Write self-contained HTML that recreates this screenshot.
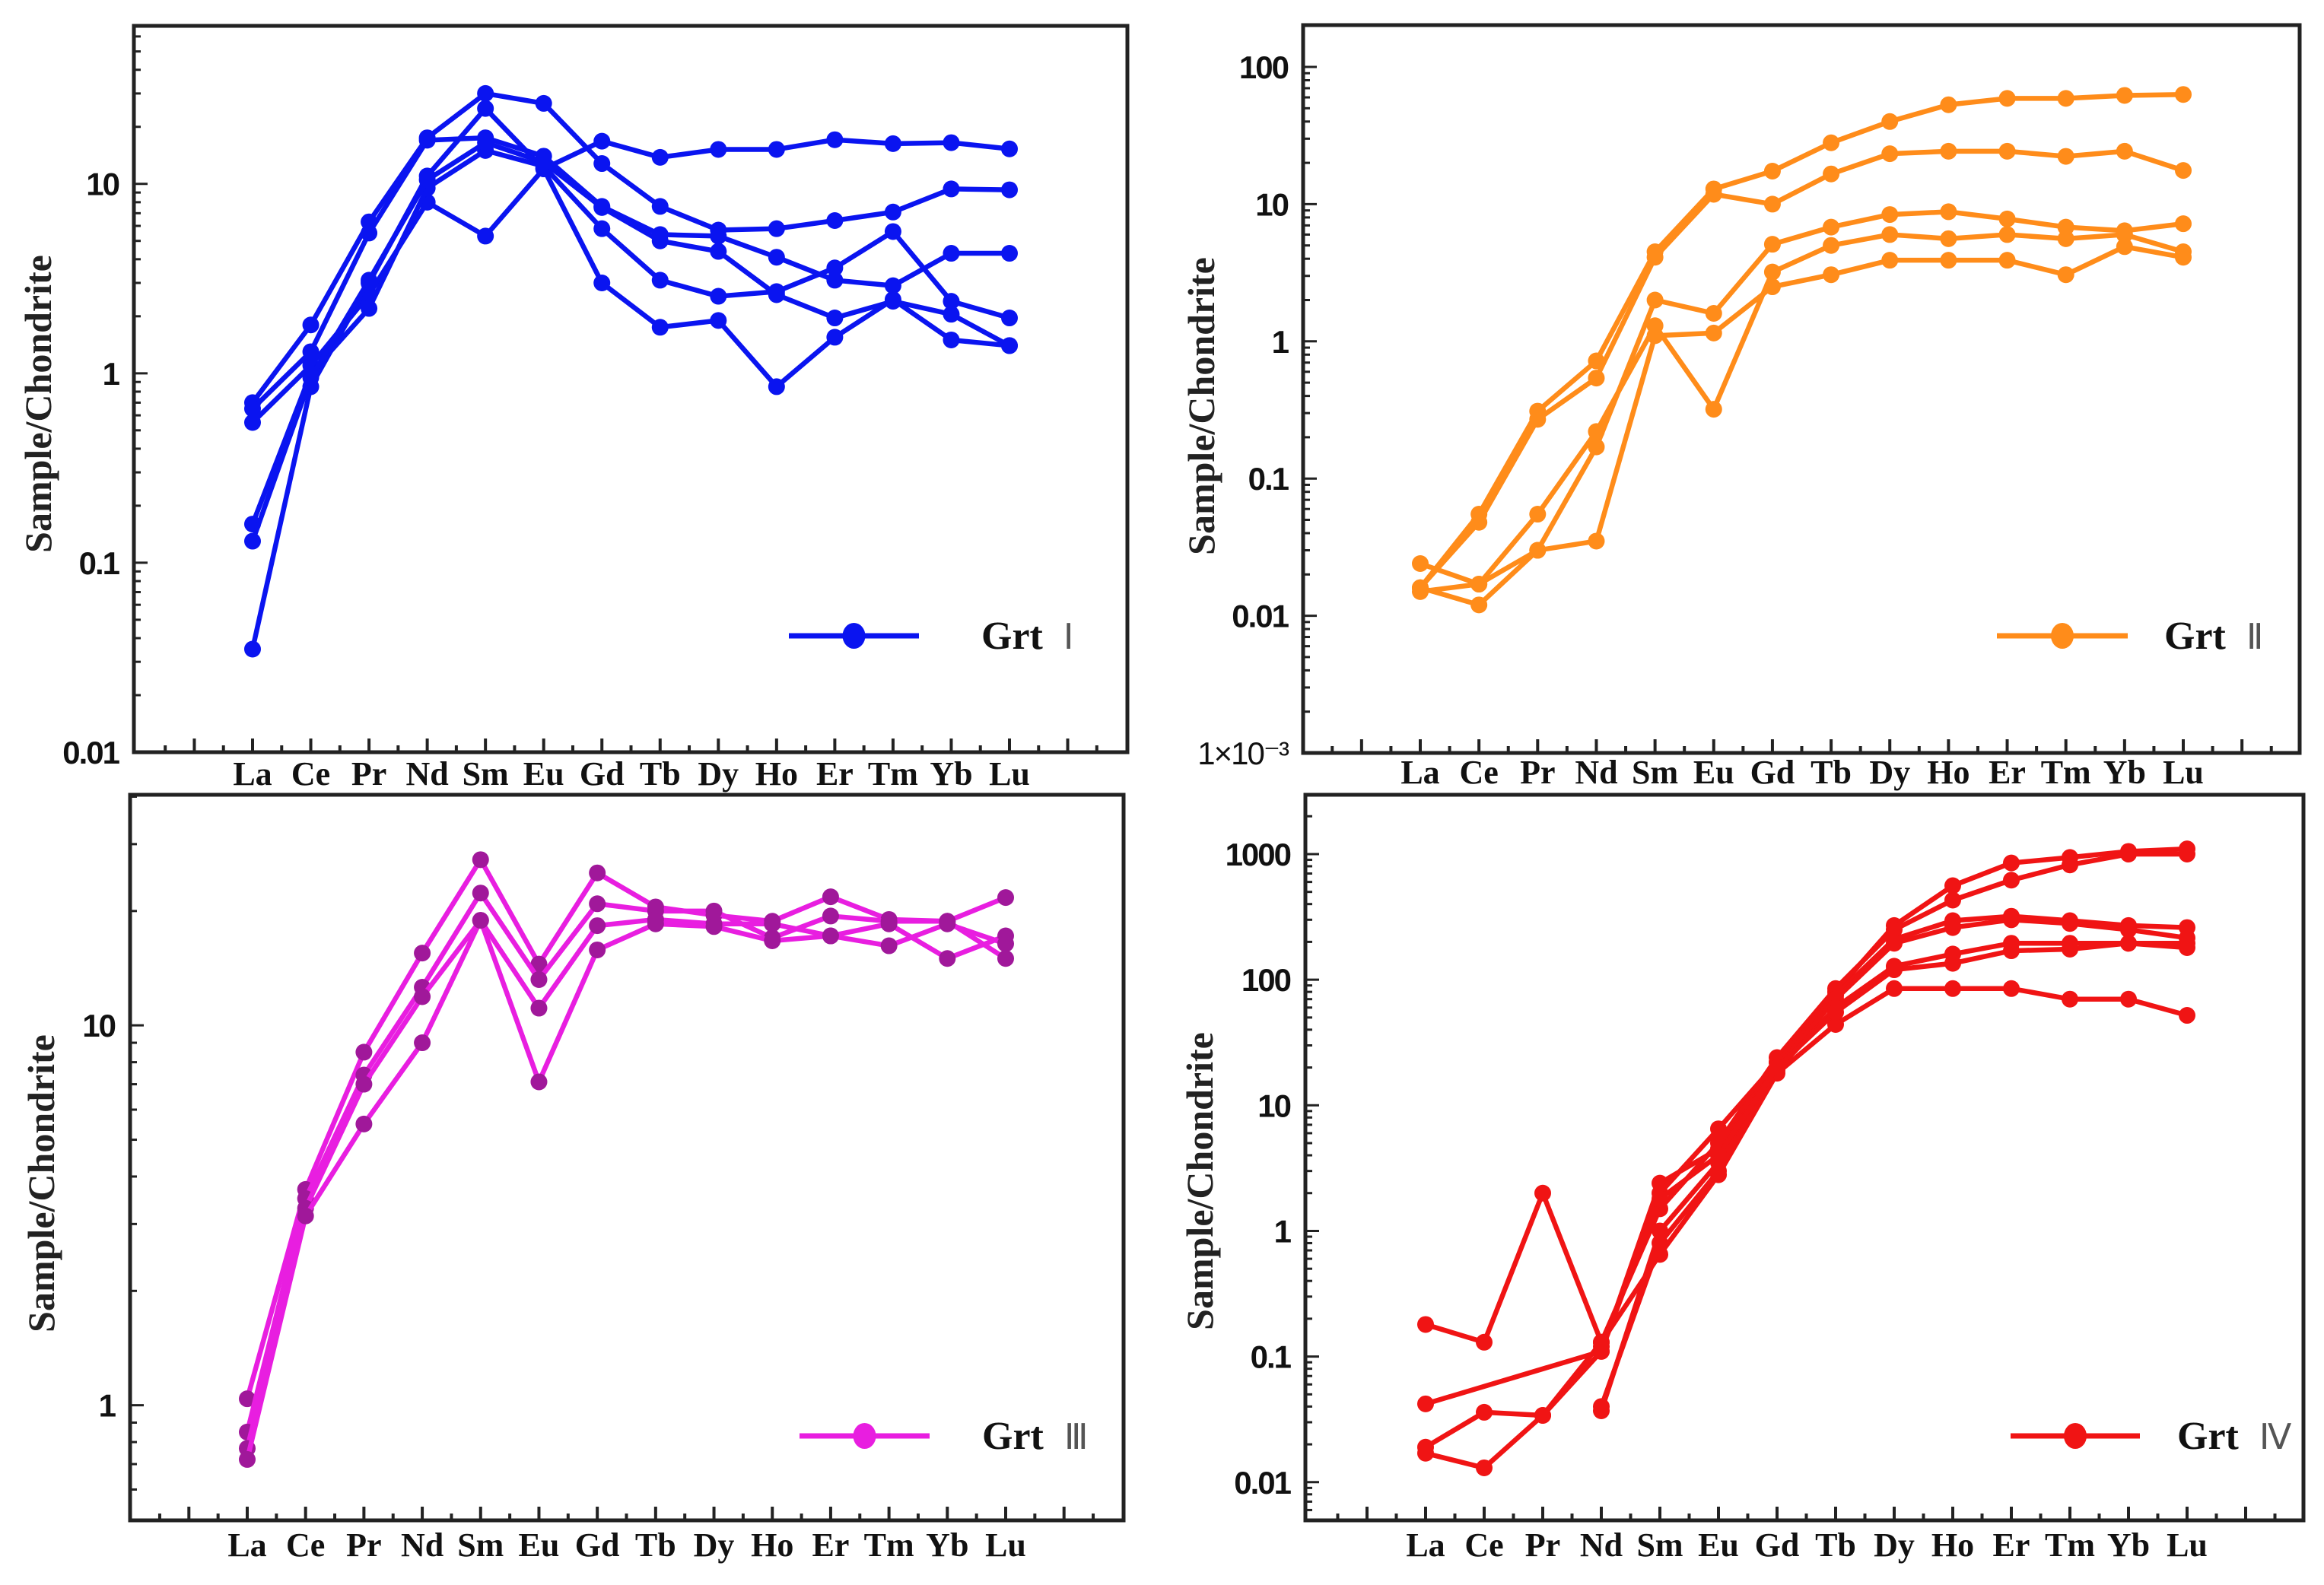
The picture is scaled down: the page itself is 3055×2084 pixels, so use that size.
<!DOCTYPE html>
<html><head><meta charset="utf-8">
<style>
html,body{margin:0;padding:0;background:#fff;}
svg{display:block;}
</style></head>
<body>
<svg id="fig" width="3055" height="2084" viewBox="0 0 3055 2084" xmlns="http://www.w3.org/2000/svg"></svg>
<script>
const categories = ["La","Ce","Pr","Nd","Sm","Eu","Gd","Tb","Dy","Ho","Er","Tm","Yb","Lu"];

const grt1Series = [
  [0.55,1.1,2.6,8.0,5.3,12,16.8,13.8,15.2,15.2,17.1,16.3,16.5,15.3],
  [0.7,1.8,6.3,17.5,30,26.6,12.8,7.6,5.7,5.8,6.4,7.1,9.4,9.3],
  [0.035,0.85,3.0,11,25,12,3.0,1.75,1.9,0.85,1.55,2.45,1.5,1.4],
  [0.65,1.3,5.5,17,17.5,14,7.6,5.4,5.3,4.1,3.1,2.9,4.3,4.3],
  [0.16,1.0,2.2,9.5,15,12.4,5.8,3.1,2.55,2.7,3.6,5.6,2.4,1.96],
  [0.13,0.95,3.1,10.5,16.5,13,7.5,5.0,4.4,2.6,1.96,2.4,2.05,1.4]
];
const grt2Series = [
  [0.016,0.055,0.31,0.72,4.5,12.9,17.4,28,40,53,59,59,62,63],
  [0.016,0.048,0.27,0.54,4.1,11.8,10,16.6,23.3,24.3,24.3,22.3,24.3,17.6],
  [0.024,0.017,0.03,0.17,2.0,1.6,5.1,6.8,8.4,8.8,7.8,6.8,6.4,7.2],
  [0.015,0.017,0.055,0.22,1.3,0.32,3.2,5.0,6.0,5.6,6.0,5.6,6.0,4.5],
  [0.016,0.012,0.03,0.035,1.1,1.15,2.5,3.06,3.9,3.9,3.9,3.06,4.9,4.1]
];
const grt3Series = [
  [1.04,3.7,8.5,15.5,27.3,14.5,25.2,20.5,19.5,18.8,21.8,19.0,18.8,15.0],
  [0.85,3.5,7.4,12.6,22.3,13.2,20.9,20,20,17,19.4,18.8,18.8,21.7],
  [0.77,3.3,7.0,11.9,18.9,11.1,18.3,19,18.5,18.5,17.2,18.5,15.0,17.2],
  [0.72,3.15,5.5,9.0,18.9,7.1,15.8,18.5,18.2,16.7,17.2,16.2,18.5,16.4]
];
const grt4Series = [
  [0.18,0.13,2.0,0.13,0.65,2.8,18,44,85,85,85,70,70,52],
  [0.042,null,null,0.11,2.4,4.5,22,80,270,560,850,940,1050,1100],
  [0.019,0.036,0.034,0.13,1.5,5,24,85,250,430,620,820,1000,1000],
  [0.017,0.013,0.034,0.11,2.0,6.5,22,75,210,295,320,295,270,260],
  [null,null,null,0.037,1.0,3.5,20,70,195,260,300,280,250,215],
  [null,null,null,0.04,0.8,3.0,19,60,128,160,195,195,195,180],
  [null,null,null,0.12,1.8,4,20,55,120,135,170,175,195,195]
];
const tickLabels1 = ["0.01","0.1","1","10"];
const tickLabels2 = ["1×10⁻³","0.01","0.1","1","10","100"];
const tickLabels3 = ["1","10"];
const tickLabels4 = ["0.01","0.1","1","10","100","1000"];

const NS = "http://www.w3.org/2000/svg";
const svg = document.getElementById("fig");
function mk(tag, attrs, parent){
  const e = document.createElementNS(NS, tag);
  for (const k in attrs) e.setAttribute(k, attrs[k]);
  (parent||svg).appendChild(e);
  return e;
}

const panels = [
  {id:"grt1", series:grt1Series, ticks:tickLabels1, firstDecade:-2, L:176,R:1482,T:34,B:989, lmin:-2, lmax:1.834, xLa:332, xLu:1327,
   line:"#0a14f0", mark:"#0a14f0", numeral:"Ⅰ", legY:836, legX1:1037, legX2:1208, legTx:1290, ylabX:50, ylabY:531, labY:1032},
  {id:"grt2", series:grt2Series, ticks:tickLabels2, firstDecade:-3, L:1713,R:3023,T:33,B:990, lmin:-3, lmax:2.305, xLa:1867, xLu:2870,
   line:"#ff8c1a", mark:"#ff8c1a", numeral:"Ⅱ", legY:836, legX1:2625, legX2:2797, legTx:2845, ylabX:1579, ylabY:534, labY:1030},
  {id:"grt3", series:grt3Series, ticks:tickLabels3, firstDecade:0, L:171,R:1477,T:1045,B:1999, lmin:-0.303, lmax:1.607, xLa:325, xLu:1322,
   line:"#e81ee0", mark:"#a0189a", numeral:"Ⅲ", legY:1888, legX1:1051, legX2:1222, legTx:1291, ylabX:54, ylabY:1556, labY:2046},
  {id:"grt4", series:grt4Series, ticks:tickLabels4, firstDecade:-2, L:1716,R:3028,T:1045,B:1999, lmin:-2.304, lmax:3.472, xLa:1874, xLu:2875,
   line:"#f01414", mark:"#f01414", numeral:"Ⅳ", legY:1888, legX1:2643, legX2:2813, legTx:2862, ylabX:1577, ylabY:1553, labY:2046}
];

panels.forEach(p => {
  const g = mk("g", {});
  
  
  const step = (p.xLu - p.xLa) / 13;
  const xs = i => p.xLa + i * step;
  const ys = v => p.B - (Math.log10(v) - p.lmin) / (p.lmax - p.lmin) * (p.B - p.T);

  const fr = mk("rect", {x:p.L, y:p.T, width:p.R-p.L, height:p.B-p.T, fill:"none", stroke:"#222", "stroke-width":5}, g);
  
  

  for (let k = -8; k <= 40; k++) {
    const x = p.xLa + k * step / 2;
    if (x <= p.L + 10 || x >= p.R - 10) continue;
    const len = (k % 2 === 0) ? 18 : 9;
    const t = mk("line", {x1:x, x2:x, y1:p.B, y2:p.B-len, stroke:"#222", "stroke-width":4}, g);
    
    
  }
  categories.forEach((c, i) => {
    const t = mk("text", {x:xs(i), y:p.labY, "text-anchor":"middle", "font-family":"Liberation Serif, serif", "font-weight":"bold", "font-size":44, fill:"#111"}, g);
    t.textContent = c;
    
    
  });

  for (let d = Math.floor(p.lmin); d <= Math.ceil(p.lmax); d++) {
    for (let m = 1; m <= 9; m++) {
      const lv = d + Math.log10(m);
      if (lv < p.lmin - 1e-6 || lv > p.lmax) continue;
      const y = ys(Math.pow(10, lv));
      const t = mk("line", {x1:p.L, x2:p.L + (m === 1 ? 18 : 9), y1:y, y2:y, stroke:"#222", "stroke-width":3}, g);
      
      
    }
  }
  p.ticks.forEach((lab, i) => {
    const v = Math.pow(10, p.firstDecade + i);
    const t = mk("text", {x:p.L - 20, y:ys(v) + 15, "text-anchor":"end", "font-family":"Liberation Sans, sans-serif",
      "font-weight": lab.indexOf("×") >= 0 ? "normal" : "bold", "font-size":42, "letter-spacing":-2, fill:"#111"}, g);
    t.textContent = lab;
    
    
  });

  const yt = mk("text", {x:0, y:0, transform:`translate(${p.ylabX + 17},${p.ylabY}) rotate(-90)`, "text-anchor":"middle",
    "font-family":"Liberation Serif, serif", "font-weight":"bold", "font-size":50, fill:"#222"}, g);
  yt.textContent = "Sample/Chondrite";
  
  

  p.series.forEach((s, si) => {
    const pts = [];
    s.forEach((v, i) => { if (v !== null) pts.push([xs(i), ys(v)]); });
    const pl = mk("polyline", {points: pts.map(q => q.join(",")).join(" "), fill:"none", stroke:p.line, "stroke-width":6.5, "stroke-linejoin":"round"}, g);
    
    
    pts.forEach(q => {
      const c = mk("circle", {cx:q[0], cy:q[1], r:11, fill:p.mark}, g);
      
      
    });
  });

  const lg = mk("g", {}, g);
  
  
  mk("line", {x1:p.legX1, x2:p.legX2, y1:p.legY, y2:p.legY, stroke:p.line, "stroke-width":7}, lg);
  mk("ellipse", {cx:(p.legX1+p.legX2)/2, cy:p.legY, rx:15, ry:17, fill:p.line}, lg);
  const lt = mk("text", {x:p.legTx, y:p.legY + 17, "font-family":"Liberation Serif, serif", "font-weight":"bold", "font-size":52, fill:"#111"}, lg);
  lt.textContent = "Grt ";
  const ln = mk("tspan", {"font-family":"DejaVu Sans, sans-serif", "font-weight":"normal", "font-size":46, fill:"#555", dx:14}, lt);
  ln.textContent = p.numeral;
});
</script>
</body></html>
